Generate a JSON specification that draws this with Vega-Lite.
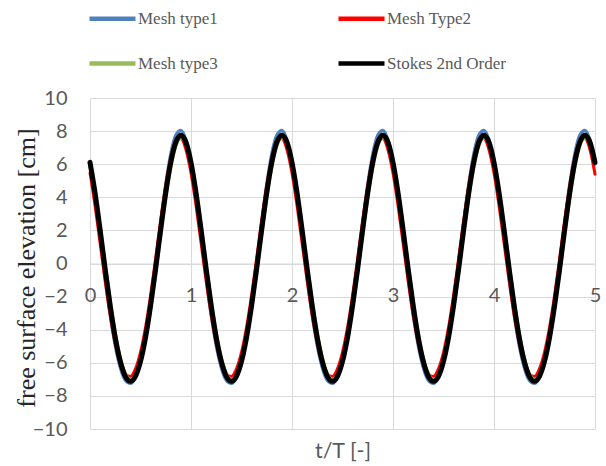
{
  "$schema": "https://vega.github.io/schema/vega-lite/v6.json",
  "width": 505,
  "height": 331,
  "autosize": {"type": "none"},
  "padding": {"left": 90, "top": 98, "right": 11, "bottom": 37},
  "background": "#ffffff",
  "datasets": {
    "m1": [
      {"t":0,"v":6.01},{"t":0.05,"v":3.98},{"t":0.1,"v":1.61},{"t":0.15,"v":-0.82},{"t":0.2,"v":-3.06},{"t":0.25,"v":-4.92},{"t":0.3,"v":-6.27},{"t":0.35,"v":-7.05},{"t":0.4,"v":-7.24},{"t":0.45,"v":-6.84},{"t":0.5,"v":-5.85},{"t":0.55,"v":-4.31},{"t":0.6,"v":-2.3},{"t":0.65,"v":0.03},{"t":0.7,"v":2.47},{"t":0.75,"v":4.75},{"t":0.8,"v":6.6},{"t":0.85,"v":7.74},{"t":0.9,"v":8.04},{"t":0.95,"v":7.43},
      {"t":1,"v":6.01},{"t":1.05,"v":3.98},{"t":1.1,"v":1.61},{"t":1.15,"v":-0.82},{"t":1.2,"v":-3.06},{"t":1.25,"v":-4.92},{"t":1.3,"v":-6.27},{"t":1.35,"v":-7.05},{"t":1.4,"v":-7.24},{"t":1.45,"v":-6.84},{"t":1.5,"v":-5.85},{"t":1.55,"v":-4.31},{"t":1.6,"v":-2.3},{"t":1.65,"v":0.03},{"t":1.7,"v":2.47},{"t":1.75,"v":4.75},{"t":1.8,"v":6.6},{"t":1.85,"v":7.74},{"t":1.9,"v":8.04},{"t":1.95,"v":7.43},
      {"t":2,"v":6.01},{"t":2.05,"v":3.98},{"t":2.1,"v":1.61},{"t":2.15,"v":-0.82},{"t":2.2,"v":-3.06},{"t":2.25,"v":-4.92},{"t":2.3,"v":-6.27},{"t":2.35,"v":-7.05},{"t":2.4,"v":-7.24},{"t":2.45,"v":-6.84},{"t":2.5,"v":-5.85},{"t":2.55,"v":-4.31},{"t":2.6,"v":-2.3},{"t":2.65,"v":0.03},{"t":2.7,"v":2.47},{"t":2.75,"v":4.75},{"t":2.8,"v":6.6},{"t":2.85,"v":7.74},{"t":2.9,"v":8.04},{"t":2.95,"v":7.43},
      {"t":3,"v":6.01},{"t":3.05,"v":3.98},{"t":3.1,"v":1.61},{"t":3.15,"v":-0.82},{"t":3.2,"v":-3.06},{"t":3.25,"v":-4.92},{"t":3.3,"v":-6.27},{"t":3.35,"v":-7.05},{"t":3.4,"v":-7.24},{"t":3.45,"v":-6.84},{"t":3.5,"v":-5.85},{"t":3.55,"v":-4.31},{"t":3.6,"v":-2.3},{"t":3.65,"v":0.03},{"t":3.7,"v":2.47},{"t":3.75,"v":4.75},{"t":3.8,"v":6.6},{"t":3.85,"v":7.74},{"t":3.9,"v":8.04},{"t":3.95,"v":7.43},
      {"t":4,"v":6.01},{"t":4.05,"v":3.98},{"t":4.1,"v":1.61},{"t":4.15,"v":-0.82},{"t":4.2,"v":-3.06},{"t":4.25,"v":-4.92},{"t":4.3,"v":-6.27},{"t":4.35,"v":-7.05},{"t":4.4,"v":-7.24},{"t":4.45,"v":-6.84},{"t":4.5,"v":-5.85},{"t":4.55,"v":-4.31},{"t":4.6,"v":-2.3},{"t":4.65,"v":0.03},{"t":4.7,"v":2.47},{"t":4.75,"v":4.75},{"t":4.8,"v":6.6},{"t":4.85,"v":7.74},{"t":4.9,"v":8.04},{"t":4.95,"v":7.43},
      {"t":5,"v":6.01}
    ],
    "m2": [
      {"t":0,"v":5.47},{"t":0.05,"v":3.5},{"t":0.1,"v":1.24},{"t":0.15,"v":-1.05},{"t":0.2,"v":-3.13},{"t":0.25,"v":-4.82},{"t":0.3,"v":-6.04},{"t":0.35,"v":-6.71},{"t":0.4,"v":-6.83},{"t":0.45,"v":-6.37},{"t":0.5,"v":-5.37},{"t":0.55,"v":-3.86},{"t":0.6,"v":-1.92},{"t":0.65,"v":0.31},{"t":0.7,"v":2.61},{"t":0.75,"v":4.73},{"t":0.8,"v":6.4},{"t":0.85,"v":7.39},{"t":0.9,"v":7.56},{"t":0.95,"v":6.89},
      {"t":1,"v":5.47},{"t":1.05,"v":3.5},{"t":1.1,"v":1.24},{"t":1.15,"v":-1.05},{"t":1.2,"v":-3.13},{"t":1.25,"v":-4.82},{"t":1.3,"v":-6.04},{"t":1.35,"v":-6.71},{"t":1.4,"v":-6.83},{"t":1.45,"v":-6.37},{"t":1.5,"v":-5.37},{"t":1.55,"v":-3.86},{"t":1.6,"v":-1.92},{"t":1.65,"v":0.31},{"t":1.7,"v":2.61},{"t":1.75,"v":4.73},{"t":1.8,"v":6.4},{"t":1.85,"v":7.39},{"t":1.9,"v":7.56},{"t":1.95,"v":6.89},
      {"t":2,"v":5.47},{"t":2.05,"v":3.5},{"t":2.1,"v":1.24},{"t":2.15,"v":-1.05},{"t":2.2,"v":-3.13},{"t":2.25,"v":-4.82},{"t":2.3,"v":-6.04},{"t":2.35,"v":-6.71},{"t":2.4,"v":-6.83},{"t":2.45,"v":-6.37},{"t":2.5,"v":-5.37},{"t":2.55,"v":-3.86},{"t":2.6,"v":-1.92},{"t":2.65,"v":0.31},{"t":2.7,"v":2.61},{"t":2.75,"v":4.73},{"t":2.8,"v":6.4},{"t":2.85,"v":7.39},{"t":2.9,"v":7.56},{"t":2.95,"v":6.89},
      {"t":3,"v":5.47},{"t":3.05,"v":3.5},{"t":3.1,"v":1.24},{"t":3.15,"v":-1.05},{"t":3.2,"v":-3.13},{"t":3.25,"v":-4.82},{"t":3.3,"v":-6.04},{"t":3.35,"v":-6.71},{"t":3.4,"v":-6.83},{"t":3.45,"v":-6.37},{"t":3.5,"v":-5.37},{"t":3.55,"v":-3.86},{"t":3.6,"v":-1.92},{"t":3.65,"v":0.31},{"t":3.7,"v":2.61},{"t":3.75,"v":4.73},{"t":3.8,"v":6.4},{"t":3.85,"v":7.39},{"t":3.9,"v":7.56},{"t":3.95,"v":6.89},
      {"t":4,"v":5.47},{"t":4.05,"v":3.5},{"t":4.1,"v":1.24},{"t":4.15,"v":-1.05},{"t":4.2,"v":-3.13},{"t":4.25,"v":-4.82},{"t":4.3,"v":-6.04},{"t":4.35,"v":-6.71},{"t":4.4,"v":-6.83},{"t":4.45,"v":-6.37},{"t":4.5,"v":-5.37},{"t":4.55,"v":-3.86},{"t":4.6,"v":-1.92},{"t":4.65,"v":0.31},{"t":4.7,"v":2.61},{"t":4.75,"v":4.73},{"t":4.8,"v":6.4},{"t":4.85,"v":7.39},{"t":4.9,"v":7.56},{"t":4.95,"v":6.89},
      {"t":5,"v":5.4}
    ],
    "m3": [
      {"t":0,"v":6.18},{"t":0.05,"v":4.44},{"t":0.1,"v":2.29},{"t":0.15,"v":-0.02},{"t":0.2,"v":-2.24},{"t":0.25,"v":-4.18},{"t":0.3,"v":-5.67},{"t":0.35,"v":-6.62},{"t":0.4,"v":-7.0},{"t":0.45,"v":-6.77},{"t":0.5,"v":-5.95},{"t":0.55,"v":-4.59},{"t":0.6,"v":-2.75},{"t":0.65,"v":-0.58},{"t":0.7,"v":1.73},{"t":0.75,"v":3.95},{"t":0.8,"v":5.81},{"t":0.85,"v":7.08},{"t":0.9,"v":7.59},{"t":0.95,"v":7.28},
      {"t":1,"v":6.18},{"t":1.05,"v":4.44},{"t":1.1,"v":2.29},{"t":1.15,"v":-0.02},{"t":1.2,"v":-2.24},{"t":1.25,"v":-4.18},{"t":1.3,"v":-5.67},{"t":1.35,"v":-6.62},{"t":1.4,"v":-7.0},{"t":1.45,"v":-6.77},{"t":1.5,"v":-5.95},{"t":1.55,"v":-4.59},{"t":1.6,"v":-2.75},{"t":1.65,"v":-0.58},{"t":1.7,"v":1.73},{"t":1.75,"v":3.95},{"t":1.8,"v":5.81},{"t":1.85,"v":7.08},{"t":1.9,"v":7.59},{"t":1.95,"v":7.28},
      {"t":2,"v":6.18},{"t":2.05,"v":4.44},{"t":2.1,"v":2.29},{"t":2.15,"v":-0.02},{"t":2.2,"v":-2.24},{"t":2.25,"v":-4.18},{"t":2.3,"v":-5.67},{"t":2.35,"v":-6.62},{"t":2.4,"v":-7.0},{"t":2.45,"v":-6.77},{"t":2.5,"v":-5.95},{"t":2.55,"v":-4.59},{"t":2.6,"v":-2.75},{"t":2.65,"v":-0.58},{"t":2.7,"v":1.73},{"t":2.75,"v":3.95},{"t":2.8,"v":5.81},{"t":2.85,"v":7.08},{"t":2.9,"v":7.59},{"t":2.95,"v":7.28},
      {"t":3,"v":6.18},{"t":3.05,"v":4.44},{"t":3.1,"v":2.29},{"t":3.15,"v":-0.02},{"t":3.2,"v":-2.24},{"t":3.25,"v":-4.18},{"t":3.3,"v":-5.67},{"t":3.35,"v":-6.62},{"t":3.4,"v":-7.0},{"t":3.45,"v":-6.77},{"t":3.5,"v":-5.95},{"t":3.55,"v":-4.59},{"t":3.6,"v":-2.75},{"t":3.65,"v":-0.58},{"t":3.7,"v":1.73},{"t":3.75,"v":3.95},{"t":3.8,"v":5.81},{"t":3.85,"v":7.08},{"t":3.9,"v":7.59},{"t":3.95,"v":7.28},
      {"t":4,"v":6.18},{"t":4.05,"v":4.44},{"t":4.1,"v":2.29},{"t":4.15,"v":-0.02},{"t":4.2,"v":-2.24},{"t":4.25,"v":-4.18},{"t":4.3,"v":-5.67},{"t":4.35,"v":-6.62},{"t":4.4,"v":-7.0},{"t":4.45,"v":-6.77},{"t":4.5,"v":-5.95},{"t":4.55,"v":-4.59},{"t":4.6,"v":-2.75},{"t":4.65,"v":-0.58},{"t":4.7,"v":1.73},{"t":4.75,"v":3.95},{"t":4.8,"v":5.81},{"t":4.85,"v":7.08},{"t":4.9,"v":7.59},{"t":4.95,"v":7.28},
      {"t":5,"v":6.18}
    ],
    "st": [
      {"t":0,"v":6.11},{"t":0.05,"v":4.27},{"t":0.1,"v":2.04},{"t":0.15,"v":-0.32},{"t":0.2,"v":-2.55},{"t":0.25,"v":-4.47},{"t":0.3,"v":-5.92},{"t":0.35,"v":-6.82},{"t":0.4,"v":-7.12},{"t":0.45,"v":-6.82},{"t":0.5,"v":-5.92},{"t":0.55,"v":-4.47},{"t":0.6,"v":-2.55},{"t":0.65,"v":-0.32},{"t":0.7,"v":2.04},{"t":0.75,"v":4.27},{"t":0.8,"v":6.11},{"t":0.85,"v":7.33},{"t":0.9,"v":7.75},{"t":0.95,"v":7.33},
      {"t":1,"v":6.11},{"t":1.05,"v":4.27},{"t":1.1,"v":2.04},{"t":1.15,"v":-0.32},{"t":1.2,"v":-2.55},{"t":1.25,"v":-4.47},{"t":1.3,"v":-5.92},{"t":1.35,"v":-6.82},{"t":1.4,"v":-7.12},{"t":1.45,"v":-6.82},{"t":1.5,"v":-5.92},{"t":1.55,"v":-4.47},{"t":1.6,"v":-2.55},{"t":1.65,"v":-0.32},{"t":1.7,"v":2.04},{"t":1.75,"v":4.27},{"t":1.8,"v":6.11},{"t":1.85,"v":7.33},{"t":1.9,"v":7.75},{"t":1.95,"v":7.33},
      {"t":2,"v":6.11},{"t":2.05,"v":4.27},{"t":2.1,"v":2.04},{"t":2.15,"v":-0.32},{"t":2.2,"v":-2.55},{"t":2.25,"v":-4.47},{"t":2.3,"v":-5.92},{"t":2.35,"v":-6.82},{"t":2.4,"v":-7.12},{"t":2.45,"v":-6.82},{"t":2.5,"v":-5.92},{"t":2.55,"v":-4.47},{"t":2.6,"v":-2.55},{"t":2.65,"v":-0.32},{"t":2.7,"v":2.04},{"t":2.75,"v":4.27},{"t":2.8,"v":6.11},{"t":2.85,"v":7.33},{"t":2.9,"v":7.75},{"t":2.95,"v":7.33},
      {"t":3,"v":6.11},{"t":3.05,"v":4.27},{"t":3.1,"v":2.04},{"t":3.15,"v":-0.32},{"t":3.2,"v":-2.55},{"t":3.25,"v":-4.47},{"t":3.3,"v":-5.92},{"t":3.35,"v":-6.82},{"t":3.4,"v":-7.12},{"t":3.45,"v":-6.82},{"t":3.5,"v":-5.92},{"t":3.55,"v":-4.47},{"t":3.6,"v":-2.55},{"t":3.65,"v":-0.32},{"t":3.7,"v":2.04},{"t":3.75,"v":4.27},{"t":3.8,"v":6.11},{"t":3.85,"v":7.33},{"t":3.9,"v":7.75},{"t":3.95,"v":7.33},
      {"t":4,"v":6.11},{"t":4.05,"v":4.27},{"t":4.1,"v":2.04},{"t":4.15,"v":-0.32},{"t":4.2,"v":-2.55},{"t":4.25,"v":-4.47},{"t":4.3,"v":-5.92},{"t":4.35,"v":-6.82},{"t":4.4,"v":-7.12},{"t":4.45,"v":-6.82},{"t":4.5,"v":-5.92},{"t":4.55,"v":-4.47},{"t":4.6,"v":-2.55},{"t":4.65,"v":-0.32},{"t":4.7,"v":2.04},{"t":4.75,"v":4.27},{"t":4.8,"v":6.11},{"t":4.85,"v":7.33},{"t":4.9,"v":7.75},{"t":4.95,"v":7.33},
      {"t":5,"v":6.11}
    ]
  },
  "encoding": {
    "x": {
      "field": "t", "type": "quantitative",
      "scale": {"domain": [0, 5], "nice": false, "zero": false},
      "axis": {
        "values": [0, 1, 2, 3, 4, 5],
        "title": "t/T [-]",
        "offset": -165.5,
        "grid": true,
        "domain": true,
        "domainColor": "#d9d9d9",
        "domainWidth": 1,
        "labelFlush": false,
        "labelPadding": 22,
        "titleY": 188,
        "titleBaseline": "middle",
        "titleFont": "Lato",
        "titleFontSize": 21.5,
        "titleFontWeight": "normal",
        "titleColor": "#595959"
      }
    },
    "y": {
      "field": "v", "type": "quantitative",
      "scale": {"domain": [-10, 10], "nice": false},
      "axis": {
        "values": [-10, -8, -6, -4, -2, 0, 2, 4, 6, 8, 10],
        "title": "free surface elevation [cm]",
        "grid": true,
        "domain": false,
        "labelPadding": 23,
        "titleX": -64,
        "titleY": 169.5,
        "titleAngle": -90,
        "titleAlign": "center",
        "titleBaseline": "middle",
        "titleFont": "Liberation Serif",
        "titleFontSize": 26,
        "titleFontWeight": "normal",
        "titleColor": "#262626"
      }
    }
  },
  "layer": [
    {
      "data": {"name": "m1"},
      "mark": {"type": "line", "interpolate": "monotone", "strokeWidth": 3.5, "strokeCap": "round", "strokeJoin": "round"},
      "encoding": {"color": {"datum": "Mesh type1", "type": "nominal",
        "scale": {"domain": ["Mesh type1", "Mesh Type2", "Mesh type3", "Stokes 2nd Order"], "range": ["#4f81bd", "#ff0000", "#9bbb59", "#000000"]}}}
    },
    {
      "data": {"name": "m2"},
      "mark": {"type": "line", "interpolate": "monotone", "strokeWidth": 3, "strokeCap": "round", "strokeJoin": "round"},
      "encoding": {"color": {"datum": "Mesh Type2", "type": "nominal"}}
    },
    {
      "data": {"name": "m3"},
      "mark": {"type": "line", "interpolate": "monotone", "strokeWidth": 3, "strokeCap": "round", "strokeJoin": "round"},
      "encoding": {"color": {"datum": "Mesh type3", "type": "nominal"}}
    },
    {
      "data": {"name": "st"},
      "mark": {"type": "line", "interpolate": "monotone", "strokeWidth": 5, "strokeCap": "round", "strokeJoin": "round"},
      "encoding": {"color": {"datum": "Stokes 2nd Order", "type": "nominal"}}
    }
  ],
  "config": {
    "view": {"stroke": null},
    "axis": {
      "gridColor": "#d9d9d9",
      "gridWidth": 1,
      "ticks": false,
      "tickSize": 0,
      "labelFont": "Lato",
      "labelFontSize": 20,
      "labelColor": "#595959",
      "labelOverlap": false
    },
    "legend": {
      "orient": "none",
      "legendX": -3,
      "legendY": -105,
      "direction": "horizontal",
      "columns": 2,
      "title": null,
      "padding": 0,
      "symbolType": "stroke",
      "symbolSize": 2116,
      "symbolStrokeWidth": 4.5,
      "labelFont": "Liberation Serif",
      "labelFontSize": 17,
      "labelColor": "#595959",
      "labelOffset": 0,
      "columnPadding": 111,
      "rowPadding": 10
    }
  }
}
